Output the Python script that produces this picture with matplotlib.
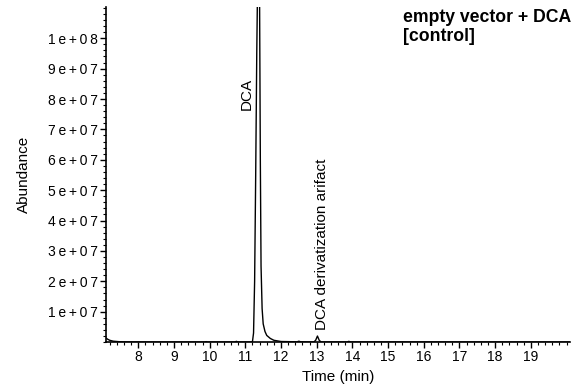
import matplotlib
matplotlib.use("Agg")
import matplotlib.pyplot as plt
from matplotlib.ticker import MultipleLocator

plt.rcParams["font.family"] = ["Liberation Sans", "DejaVu Sans"]

# ---------------------------
# Chromatogram
# ---------------------------
time_min = [7.10, 7.15, 7.20, 7.30, 7.45, 7.60, 7.80, 8.50, 9.50, 9.85, 9.90, 9.95,
            10.70, 10.75, 10.80, 11.15, 11.20, 11.23, 11.26, 11.29, 11.32, 11.35,
            11.38, 11.40, 11.42, 11.44, 11.47, 11.50, 11.55, 11.60, 11.70, 11.80,
            12.00, 12.45, 12.50, 12.55, 12.92, 12.97, 13.02, 13.07, 13.12, 13.85,
            13.90, 13.95, 20.10]
abundance = [1.3e6, 9e5, 6e5, 3e5, 1.5e5, 8e4, 5e4, 3e4, 2e4, 2e4, 1.5e5, 2e4,
             3e4, 2.5e5, 3e4, 3e4, 2e5, 3e6, 2e7, 5.5e7, 9.5e7, 1.25e8,
             1.3e8, 1.1e8, 6e7, 2.5e7, 1.1e7, 6e6, 3.5e6, 2.2e6, 1.2e6, 6e5,
             2e5, 1e5, 3e5, 1e5, 5e4, 6e5, 2e6, 6e5, 5e4, 5e4,
             2.5e5, 5e4, 2e4]

yticks = [1e7, 2e7, 3e7, 4e7, 5e7, 6e7, 7e7, 8e7, 9e7, 1e8]
ytick_labels = ["1e+07", "2e+07", "3e+07", "4e+07", "5e+07",
                "6e+07", "7e+07", "8e+07", "9e+07", "1e+08"]
xticks = [8, 9, 10, 11, 12, 13, 14, 15, 16, 17, 18, 19]

fig = plt.figure(figsize=(5.8, 3.87), dpi=100)
ax = fig.add_axes([0.183, 0.116, 0.800, 0.866])

ax.plot(time_min, abundance, color="black", lw=1.0)

ax.set_xlim(7.1, 20.1)
ax.set_ylim(0, 1.103e8)

ax.set_xticks(xticks)
ax.set_xticklabels([str(t) for t in xticks])
ax.set_yticks(yticks)
# spaced-out tick labels like the instrument software
ax.set_yticklabels(["\u2009".join(lbl) for lbl in ytick_labels])
ax.xaxis.set_minor_locator(MultipleLocator(0.2))
ax.yaxis.set_minor_locator(MultipleLocator(2e6))

ax.tick_params(axis="both", which="major", direction="out", length=4, width=1,
               labelsize=10, pad=2)
ax.tick_params(axis="both", which="minor", direction="out", length=2, width=0.8)

for side in ["top", "right"]:
    ax.spines[side].set_visible(False)
for side in ["left", "bottom"]:
    ax.spines[side].set_linewidth(1.2)

ax.set_xlabel("Time (min)", fontsize=11, labelpad=4)
ax.set_ylabel("Abundance", fontsize=11, labelpad=12)

# peak labels
ax.text(11.04, 7.65e7, "DCA", rotation=90, ha="center", va="bottom", fontsize=11)
ax.text(13.16, 0.4e7, "DCA derivatization arifact", rotation=90, ha="center",
        va="bottom", fontsize=11)

fig.text(0.694, 0.978, "empty vector + DCA\n[control]", ha="left", va="top",
         fontsize=12.7, fontweight="bold", linespacing=1.2)

fig.savefig("out.png", dpi=100)
